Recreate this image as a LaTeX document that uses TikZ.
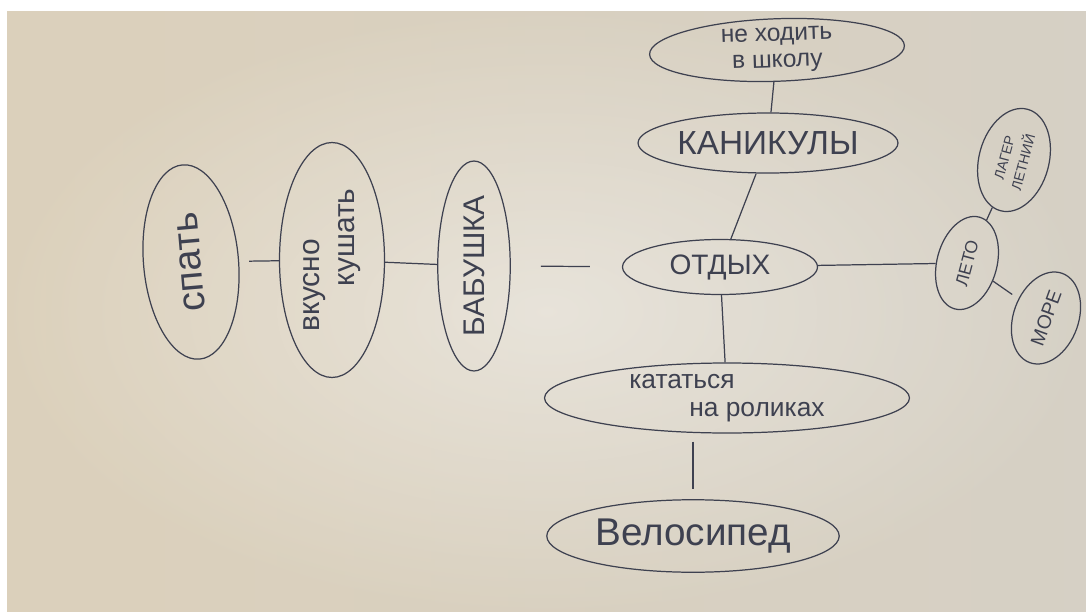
\documentclass[tikz,border=0pt]{standalone}
\usepackage{fontspec}
\setmainfont{Liberation Sans}
\usetikzlibrary{shapes.geometric}

\definecolor{pen}{HTML}{3E4150}
\definecolor{paperlight}{HTML}{EEEBE5}
\definecolor{paperdark}{HTML}{D5CCBA}
\definecolor{paperwarm}{HTML}{E6D8BE}
\definecolor{papercool}{HTML}{D8D8D6}

\begin{document}
\begin{tikzpicture}[x=0.02cm, y=-0.02cm,
    every node/.style={ellipse, draw=pen, line width=0.7pt, text=pen, inner sep=0pt, align=center},
    link/.style={draw=pen, line width=0.7pt}]
    \useasboundingbox (0,0) rectangle (1086,612);
    \fill[white] (0,0) rectangle (1086,612);
    \shade[inner color=paperlight, outer color=paperdark] (7,11) rectangle (1086,612);
    \shade[left color=paperwarm, right color=papercool, opacity=0.4] (7,11) rectangle (1086,612);

    \node[minimum width=5.1cm, minimum height=1.25cm, inner ysep=-3pt, rotate=2, font=\fontsize{14}{15}\selectfont] (shkola) at (777,50) {не ходить\\в школу};
    \node[minimum width=5.2cm, minimum height=1.2cm, font=\fontsize{19}{22}\selectfont] (kanikuly) at (768,143) {КАНИКУЛЫ};
    \node[minimum width=3.9cm, minimum height=1.1cm, font=\fontsize{16}{18}\selectfont] (otdyh) at (720,267) {ОТДЫХ};
    \node[minimum width=1.9cm, minimum height=1.2cm, rotate=75, font=\fontsize{10}{10}\selectfont] (leto) at (967,263) {ЛЕТО};
    \node[minimum width=2.1cm, minimum height=1.4cm, inner ysep=-2pt, rotate=75, font=\fontsize{8}{11}\selectfont] (lager) at (1014,160) {ЛАГЕР\\ЛЕТНИЙ};
    \node[minimum width=1.9cm, minimum height=1.3cm, rotate=70, font=\fontsize{11}{12}\selectfont] (more) at (1046,318) {МОРЕ};
    \node[minimum width=4.2cm, minimum height=1.45cm, rotate=90, font=\fontsize{17}{19}\selectfont] (babushka) at (474,266) {БАБУШКА};
    \node[minimum width=4.7cm, minimum height=2.1cm, inner ysep=-4pt, rotate=90, align=left, font=\fontsize{17}{20}\selectfont] (vkusno) at (332,260) {вкусно\\\hspace{0.9cm}кушать};
    \node[minimum width=3.9cm, minimum height=1.9cm, rotate=95, font=\fontsize{22}{24}\selectfont] (spat) at (191,262) {спать};
    \node[minimum width=7.3cm, minimum height=1.4cm, inner ysep=-4pt, align=left, font=\fontsize{15}{16}\selectfont] (roliki) at (727,398) {кататься\\\hspace{1.2cm}на роликах};
    \node[minimum width=5.85cm, minimum height=1.45cm, font=\fontsize{22}{24}\selectfont] (velo) at (693,536) {Велосипед};

    \draw[link] (shkola) -- (kanikuly);
    \draw[link] (kanikuly) -- (otdyh);
    \draw[link] (otdyh) -- (leto);
    \draw[link] (leto) -- (lager);
    \draw[link, shorten >=0.15cm] (leto) -- (more);
    \draw[link, shorten <=0.64cm, shorten >=0.6cm] (otdyh) -- (babushka);
    \draw[link] (babushka) -- (vkusno);
    \draw[link, shorten >=0.2cm] (vkusno) -- (spat);
    \draw[link] (otdyh) -- (roliki);
    \draw[link, shorten <=0.16cm, shorten >=0.2cm] (roliki.south -| velo.north) -- (velo);
\end{tikzpicture}
\end{document}
